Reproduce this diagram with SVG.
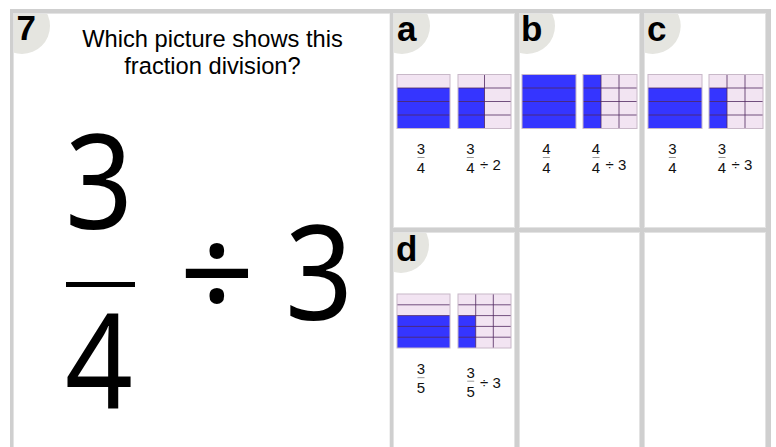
<svg xmlns="http://www.w3.org/2000/svg" width="776" height="447" viewBox="0 0 776 447">
<defs>
<style>
.badge{fill:#e5e5e0}
.blt{font-family:"Liberation Sans",Arial,sans-serif;font-weight:bold;font-size:35px;fill:#000}
.q{font-family:"Liberation Sans",Arial,sans-serif;font-size:23.7px;fill:#000;text-anchor:middle}
.big{font-family:"Noto Sans","DejaVu Sans",sans-serif;font-size:132px;fill:#000;text-anchor:middle}
.sm{font-family:"Liberation Sans",Arial,sans-serif;font-size:15px;fill:#111;text-anchor:middle}
.op{font-family:"Liberation Sans",Arial,sans-serif;font-size:15px;fill:#111}
.fb{stroke:#999;stroke-width:1}
.pk{fill:#f2e4f2}
.bl{fill:#3535ff}
.ln{stroke:#502860;stroke-opacity:0.8;stroke-width:1;fill:none}
.ol{stroke:#c8b8c8;stroke-width:1;fill:none}
.fr{fill:#cfcfcf}
.cell{fill:none;stroke:#e3e3e3;stroke-width:1}
</style>
<clipPath id="cq"><rect x="13" y="13" width="377" height="434"/></clipPath>
<clipPath id="ca"><rect x="393" y="13" width="122" height="215"/></clipPath>
<clipPath id="cb"><rect x="519" y="13" width="121" height="215"/></clipPath>
<clipPath id="cc"><rect x="644" y="13" width="122" height="215"/></clipPath>
<clipPath id="cd"><rect x="393" y="232" width="122" height="215"/></clipPath>
</defs>
<rect x="0" y="0" width="776" height="447" fill="#fff"/>

<g id="question">
<circle class="badge" cx="22" cy="26" r="28" clip-path="url(#cq)"/>
<text class="blt" x="16.6" y="40">7</text>
<text class="q" x="212.5" y="46.5">Which picture shows this</text>
<text class="q" x="212.5" y="74">fraction division?</text>
<text class="big" x="99" y="229" transform="translate(99 0) scale(0.9 1) translate(-99 0)">3</text>
<rect x="66" y="282" width="69" height="5" fill="#000"/>
<text class="big" x="99" y="408" transform="translate(99 0) scale(0.9 1) translate(-99 0)">4</text>
<text class="big" x="217" y="320">÷</text>
<text class="big" x="319" y="320" transform="translate(319 0) scale(0.9 1) translate(-319 0)">3</text>
</g>

<g id="option-a">
<circle class="badge" cx="402" cy="26" r="28" clip-path="url(#ca)"/>
<text class="blt" x="397" y="41">a</text>
<rect class="pk" x="397" y="74.5" width="53" height="54"/>
<rect class="bl" x="397" y="88" width="53" height="40.5"/>
<path class="ln" d="M397 88H450M397 101.5H450M397 115H450"/>
<rect class="ol" x="397" y="74.5" width="53" height="54"/>
<rect class="pk" x="458" y="74.5" width="53" height="54"/>
<rect class="bl" x="458" y="88" width="26.5" height="40.5"/>
<path class="ln" d="M458 88H511M458 101.5H511M458 115H511M484.5 74.5V128.5"/>
<rect class="ol" x="458" y="74.5" width="53" height="54"/>
<text class="sm" x="421" y="154">3</text>
<line class="fb" x1="417.5" y1="157.5" x2="424.5" y2="157.5"/>
<text class="sm" x="421" y="173">4</text>
<text class="sm" x="470.3" y="154">3</text>
<line class="fb" x1="466.8" y1="157.5" x2="473.8" y2="157.5"/>
<text class="sm" x="470.3" y="173">4</text>
<text class="op" x="480" y="170">÷ 2</text>
</g>

<g id="option-b">
<circle class="badge" cx="527" cy="26" r="28" clip-path="url(#cb)"/>
<text class="blt" x="521" y="41">b</text>
<rect class="bl" x="522" y="74.5" width="54" height="54"/>
<path class="ln" d="M522 88H576M522 101.5H576M522 115H576"/>
<rect class="ol" x="522" y="74.5" width="54" height="54"/>
<rect class="pk" x="583" y="74.5" width="54" height="54"/>
<rect class="bl" x="583" y="74.5" width="18" height="54"/>
<path class="ln" d="M583 88H637M583 101.5H637M583 115H637M601 74.5V128.5M619 74.5V128.5"/>
<rect class="ol" x="583" y="74.5" width="54" height="54"/>
<text class="sm" x="546.3" y="154">4</text>
<line class="fb" x1="542.8" y1="157.5" x2="549.8" y2="157.5"/>
<text class="sm" x="546.3" y="173">4</text>
<text class="sm" x="596" y="154">4</text>
<line class="fb" x1="592.5" y1="157.5" x2="599.5" y2="157.5"/>
<text class="sm" x="596" y="173">4</text>
<text class="op" x="605.5" y="170">÷ 3</text>
</g>

<g id="option-c">
<circle class="badge" cx="652.7" cy="26" r="28" clip-path="url(#cc)"/>
<text class="blt" x="647" y="41">c</text>
<rect class="pk" x="648" y="74.5" width="54" height="54"/>
<rect class="bl" x="648" y="88" width="54" height="40.5"/>
<path class="ln" d="M648 88H702M648 101.5H702M648 115H702"/>
<rect class="ol" x="648" y="74.5" width="54" height="54"/>
<rect class="pk" x="709" y="74.5" width="54" height="54"/>
<rect class="bl" x="709" y="88" width="18" height="40.5"/>
<path class="ln" d="M709 88H763M709 101.5H763M709 115H763M727 74.5V128.5M745 74.5V128.5"/>
<rect class="ol" x="709" y="74.5" width="54" height="54"/>
<text class="sm" x="672.3" y="154">3</text>
<line class="fb" x1="668.8" y1="157.5" x2="675.8" y2="157.5"/>
<text class="sm" x="672.3" y="173">4</text>
<text class="sm" x="722" y="154">3</text>
<line class="fb" x1="718.5" y1="157.5" x2="725.5" y2="157.5"/>
<text class="sm" x="722" y="173">4</text>
<text class="op" x="731.5" y="170">÷ 3</text>
</g>

<g id="option-d">
<circle class="badge" cx="401" cy="245" r="28" clip-path="url(#cd)"/>
<text class="blt" x="396" y="261">d</text>
<rect class="pk" x="397" y="294" width="53" height="54"/>
<rect class="bl" x="397" y="315.6" width="53" height="32.4"/>
<path class="ln" d="M397 304.8H450M397 315.6H450M397 326.4H450M397 337.2H450"/>
<rect class="ol" x="397" y="294" width="53" height="54"/>
<rect class="pk" x="458" y="294" width="53" height="54"/>
<rect class="bl" x="458" y="315.6" width="17.7" height="32.4"/>
<path class="ln" d="M458 304.8H511M458 315.6H511M458 326.4H511M458 337.2H511M475.7 294V348M493.3 294V348"/>
<rect class="ol" x="458" y="294" width="53" height="54"/>
<text class="sm" x="421" y="374">3</text>
<line class="fb" x1="417.5" y1="377.7" x2="424.5" y2="377.7"/>
<text class="sm" x="421" y="393">5</text>
<text class="sm" x="470.7" y="377.5">3</text>
<line class="fb" x1="467.2" y1="381.2" x2="474.2" y2="381.2"/>
<text class="sm" x="470.7" y="396.5">5</text>
<text class="op" x="480" y="387.5">÷ 3</text>
</g>

<g id="frame">
<rect class="cell" x="13.5" y="13.5" width="376.5" height="440"/>
<rect class="cell" x="393.5" y="13.5" width="121" height="214"/>
<rect class="cell" x="519.5" y="13.5" width="120" height="214"/>
<rect class="cell" x="644.5" y="13.5" width="121" height="214"/>
<rect class="cell" x="393.5" y="232.5" width="121" height="220"/>
<rect class="cell" x="519.5" y="232.5" width="120" height="220"/>
<rect class="cell" x="644.5" y="232.5" width="121" height="220"/>
<rect class="fr" x="10" y="9" width="761" height="4"/>
<rect class="fr" x="10" y="9" width="3" height="438"/>
<rect class="fr" x="390" y="9" width="3" height="438"/>
<rect class="fr" x="515" y="9" width="4" height="438"/>
<rect class="fr" x="640" y="9" width="4" height="438"/>
<rect class="fr" x="766" y="9" width="5" height="438"/>
<rect class="fr" x="393" y="228" width="373" height="4"/>
</g>
</svg>
